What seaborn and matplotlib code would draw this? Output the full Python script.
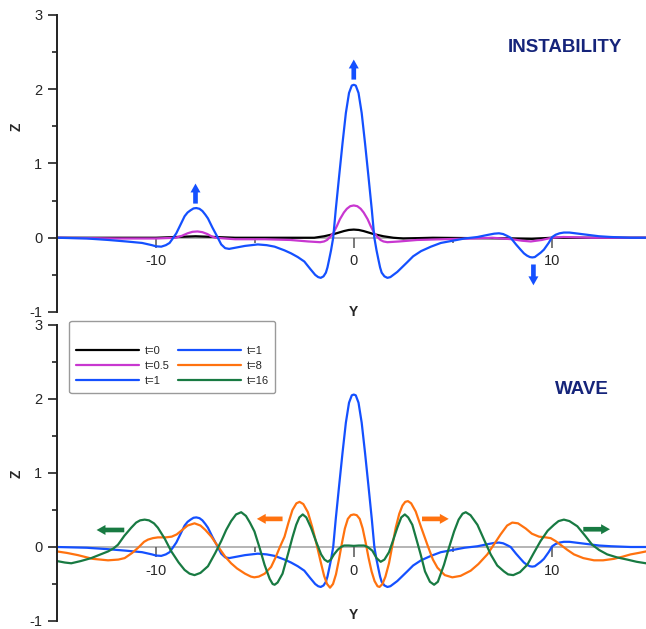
import numpy as np
import pandas as pd
import matplotlib
matplotlib.use("Agg")
import matplotlib.pyplot as plt
import seaborn as sns

# ---------------- data ----------------
# t = 0
y_t0 = [-15, -10, -9, -8, -7, -6, -3, -2, -1.5, -1.25, -1.0, -0.75, -0.5, -0.25, 0, 0.25, 0.5, 0.75, 1.0, 1.25,
        1.5, 2.0, 2.5, 4, 8, 9, 10, 14.8]
z_t0 = [0, 0, 0.01, 0.02, 0.01, 0, 0, 0, 0.02, 0.035, 0.05, 0.07, 0.09, 0.105, 0.11, 0.105, 0.09, 0.07, 0.05, 0.035,
        0.02, 0, -0.01, 0, -0.01, -0.015, 0, 0]

# t = 0.5
y_t05 = [-15, -12, -10, -9, -8.7, -8.4, -8.15, -7.9, -7.65, -7.4, -7.2, -7.0, -6.0, -4.5, -3.2, -2.3, -2.0, -1.7,
         -1.5, -1.35, -1.2, -1.04, -0.85, -0.7, -0.5, -0.35, -0.18, 0, 0.18, 0.35, 0.5, 0.7, 0.85, 1.04, 1.2, 1.35,
         1.5, 1.7, 2.0, 2.3, 3.2, 4.5, 6, 7, 8.0, 8.5, 8.95, 9.5, 10, 10.6, 12, 14.8]
z_t05 = [0, -0.01, -0.01, 0, 0.025, 0.06, 0.08, 0.085, 0.075, 0.05, 0.02, 0, -0.02, -0.02, -0.03, -0.05, -0.055, -0.06,
         -0.05, -0.03, 0.01, 0.06, 0.16, 0.25, 0.34, 0.39, 0.425, 0.435, 0.425, 0.39, 0.34, 0.25, 0.16, 0.06, 0.01, -0.03,
         -0.05, -0.06, -0.055, -0.05, -0.03, -0.02, -0.01, 0, -0.02, -0.04, -0.05, -0.03, 0, 0.01, 0, 0]

# t = 1
y_t1 = [-15, -13.5, -12.4, -11.5, -10.7, -10.2, -10.0, -9.73, -9.5, -9.31, -9.15, -8.97, -8.75, -8.55, -8.4, -8.25,
        -8.1, -7.96, -7.8, -7.65, -7.5, -7.37, -7.15, -6.95, -6.7, -6.5, -6.3, -6.1, -5.9, -5.5, -4.85, -4.4, -4.0,
        -3.5, -3.17, -2.83, -2.5, -2.2, -1.95, -1.8, -1.67, -1.53, -1.41, -1.33, -1.25, -1.15, -1.04, -0.91, -0.74,
        -0.57, -0.40, -0.24, -0.1, 0, 0.1, 0.24, 0.40, 0.57, 0.74, 0.91, 1.04, 1.15, 1.25, 1.33, 1.41, 1.55, 1.70,
        1.85, 1.95, 2.2, 2.7, 3.0, 3.4, 3.9, 4.4, 5.0, 5.6, 6.25, 6.8, 7.1, 7.34, 7.55, 7.75, 7.93, 8.2, 8.43, 8.6,
        8.75, 8.9, 9.02, 9.15, 9.3, 9.45, 9.61, 9.85, 10.03, 10.2, 10.4, 10.62, 10.9, 11.2, 11.8, 12.4, 13.0, 14.0,
        14.8]
z_t1 = [0, -0.01, -0.03, -0.05, -0.07, -0.10, -0.115, -0.12, -0.10, -0.07, -0.01, 0.06, 0.18, 0.29, 0.34, 0.37,
        0.395, 0.40, 0.39, 0.36, 0.31, 0.26, 0.14, 0.04, -0.09, -0.14, -0.15, -0.14, -0.13, -0.11, -0.09, -0.10, -0.12,
        -0.17, -0.21, -0.26, -0.32, -0.42, -0.50, -0.53, -0.54, -0.52, -0.47, -0.40, -0.30, -0.17, 0.0, 0.38, 0.83,
        1.27, 1.68, 1.95, 2.05, 2.06, 2.05, 1.95, 1.68, 1.27, 0.83, 0.38, 0.0, -0.17, -0.30, -0.40, -0.47, -0.52, -0.54,
        -0.53, -0.51, -0.46, -0.33, -0.25, -0.18, -0.12, -0.07, -0.04, -0.01, 0.01, 0.04, 0.055, 0.06, 0.05, 0.025,
        0.0, -0.09, -0.16, -0.21, -0.24, -0.26, -0.265, -0.26, -0.23, -0.20, -0.16, -0.07, 0.01, 0.04, 0.06, 0.07,
        0.07, 0.06, 0.04, 0.02, 0.01, 0, 0]

# t = 8
y_t8 = [-15, -14.5, -13.94, -13.2, -12.42, -11.9, -11.58, -11.2, -10.9, -10.6, -10.4, -10.15, -9.9, -9.5, -9.2,
        -8.95, -8.72, -8.4, -8.05, -7.75, -7.5, -7.2, -6.87, -6.5, -6.2, -5.9, -5.5, -5.2, -5.03, -4.8, -4.5, -4.18,
        -3.95, -3.75, -3.5, -3.3, -3.1, -2.9, -2.74, -2.55, -2.32, -2.1, -1.9, -1.7, -1.5, -1.35, -1.2, -1.05, -0.9,
        -0.75, -0.6, -0.45, -0.3, -0.15, 0, 0.15, 0.3, 0.45, 0.6, 0.75, 0.9, 1.05, 1.2, 1.3, 1.45, 1.6, 1.78, 1.95,
        2.12, 2.3, 2.46, 2.6, 2.74, 2.9, 3.13, 3.4, 3.72, 4.0, 4.23, 4.6, 4.98, 5.4, 5.91, 6.3, 6.75, 7.1, 7.42, 7.75,
        8.01, 8.3, 8.69, 9.0, 9.36, 9.7, 9.95, 10.2, 10.45, 10.8, 11.13, 11.6, 12.14, 12.6, 13.15, 13.6, 13.99, 14.4,
        14.77]
z_t8 = [-0.06, -0.08, -0.11, -0.16, -0.18, -0.17, -0.15, -0.08, -0.01, 0.07, 0.10, 0.12, 0.13, 0.13, 0.14,
        0.17, 0.22, 0.29, 0.32, 0.29, 0.23, 0.14, 0.01, -0.13, -0.22, -0.29, -0.36, -0.40, -0.41, -0.40, -0.36, -0.27,
        -0.14, -0.01, 0.14, 0.33, 0.50, 0.59, 0.61, 0.58, 0.47, 0.27, 0.06, -0.17, -0.39, -0.50, -0.55, -0.50, -0.37,
        -0.17, 0.05, 0.25, 0.38, 0.43, 0.44, 0.43, 0.38, 0.25, 0.06, -0.15, -0.33, -0.46, -0.53, -0.54, -0.50, -0.40,
        -0.22, 0.02, 0.26, 0.45, 0.56, 0.61, 0.62, 0.59, 0.48, 0.27, 0.03, -0.17, -0.28, -0.38, -0.41, -0.39, -0.32,
        -0.23, -0.10, 0.04, 0.17, 0.29, 0.33, 0.32, 0.25, 0.18, 0.14, 0.13, 0.12, 0.08, 0.03, -0.04, -0.10, -0.15,
        -0.18, -0.18, -0.16, -0.13, -0.10, -0.08, -0.06]

# t = 16
y_t16 = [-15, -14.6, -14.28, -13.8, -13.27, -12.8, -12.42, -12.15, -11.92, -11.6, -11.25, -11.0, -10.8, -10.57,
         -10.35, -10.1, -9.9, -9.55, -9.22, -8.85, -8.55, -8.3, -8.05, -7.75, -7.37, -7.0, -6.70, -6.45, -6.20, -5.95,
         -5.69, -5.45, -5.25, -5.02, -4.75, -4.51, -4.25, -4.1, -4.0, -3.85, -3.6, -3.33, -3.1, -2.91, -2.75, -2.58,
         -2.4, -2.16, -1.9, -1.65, -1.48, -1.31, -1.16, -1.0, -0.82, -0.65, -0.49, -0.25, 0, 0.25, 0.52, 0.7, 0.94,
         1.15, 1.36, 1.55, 1.78, 2.0, 2.2, 2.4, 2.58, 2.75, 2.96, 3.15, 3.38, 3.6, 3.85, 4.06, 4.25, 4.56, 4.8, 5.07,
         5.3, 5.5, 5.66, 5.9, 6.25, 6.6, 6.92, 7.25, 7.59, 7.8, 8.06, 8.4, 8.77, 9.1, 9.44, 9.8, 10.12, 10.35, 10.62,
         10.9, 11.3, 11.7, 12.05, 12.4, 12.81, 13.3, 13.82, 14.3, 14.77]
z_t16 = [-0.19, -0.21, -0.22, -0.19, -0.15, -0.10, -0.06, -0.02, 0.03, 0.15, 0.26, 0.33, 0.36, 0.37,
         0.36, 0.32, 0.26, 0.11, -0.06, -0.21, -0.31, -0.36, -0.38, -0.35, -0.26, -0.08, 0.08, 0.23, 0.35, 0.44,
         0.47, 0.42, 0.33, 0.21, -0.02, -0.24, -0.43, -0.50, -0.51, -0.48, -0.36, -0.10, 0.13, 0.30, 0.40, 0.44,
         0.40, 0.26, 0.07, -0.10, -0.17, -0.20, -0.17, -0.10, -0.04, 0.0, 0.02, 0.02, 0.015, 0.02, 0.02, 0.0, -0.05,
         -0.15, -0.20, -0.17, -0.07, 0.10, 0.26, 0.40, 0.44, 0.40, 0.30, 0.12, -0.10, -0.33, -0.47, -0.51, -0.47,
         -0.24, -0.02, 0.21, 0.37, 0.45, 0.47, 0.43, 0.30, 0.09, -0.10, -0.25, -0.33, -0.37, -0.38, -0.34, -0.24,
         -0.08, 0.08, 0.22, 0.30, 0.35, 0.37, 0.35, 0.28, 0.15, 0.03, -0.04, -0.10, -0.14, -0.17, -0.20, -0.22]

legend_labels = ["t=0", "t=0.5", "t=1", "t=1", "t=8", "t=16"]
x_ticks_major = [-10, 0, 10]
x_ticks_minor = [-5, 5]
y_ticks_major = [-1, 0, 1, 2, 3]
y_ticks_minor = [-0.5, 0.5, 1.5, 2.5]

C_BLACK = "#000000"
C_MAG = "#c837d0"
C_BLUE = "#1450ff"
C_ORANGE = "#ff720f"
C_GREEN = "#187a42"
C_TITLE = "#15247a"

# ---------------- style ----------------
sns.set_style("white")
plt.rcParams["font.family"] = ["Liberation Sans", "DejaVu Sans"]
plt.rcParams["axes.unicode_minus"] = False

fig = plt.figure(figsize=(6.46, 6.29), dpi=100)
ax_top = fig.add_axes([57 / 646, 1 - 312 / 629, 589 / 646, 297 / 629])
ax_bot = fig.add_axes([57 / 646, 1 - 621 / 629, 589 / 646, 296 / 629])

LW = 1.6


def draw(ax, xs, zs, color, label):
    df = pd.DataFrame({"Y": xs, "Z": zs})
    sns.lineplot(data=df, x="Y", y="Z", ax=ax, color=color, lw=LW, sort=False,
                 estimator=None, label=label, legend=False)


draw(ax_top, y_t0, z_t0, C_BLACK, "t=0")
draw(ax_top, y_t05, z_t05, C_MAG, "t=0.5")
draw(ax_top, y_t1, z_t1, C_BLUE, "t=1")

draw(ax_bot, y_t1, z_t1, C_BLUE, "t=1")
draw(ax_bot, y_t8, z_t8, C_ORANGE, "t=8")
draw(ax_bot, y_t16, z_t16, C_GREEN, "t=16")

for ax in (ax_top, ax_bot):
    ax.set_xlim(-15, 14.77)
    ax.set_ylim(-1, 3)
    ax.set_facecolor("none")
    for s in ("top", "right"):
        ax.spines[s].set_visible(False)
    ax.spines["left"].set_color("#222222")
    ax.spines["left"].set_linewidth(1.4)
    ax.spines["bottom"].set_position(("data", 0))
    ax.spines["bottom"].set_color("#a8a8a8")
    ax.spines["bottom"].set_linewidth(1.2)
    ax.spines["bottom"].set_zorder(0.5)
    ax.set_xticks(x_ticks_major)
    ax.set_xticks(x_ticks_minor, minor=True)
    ax.set_xticklabels([str(v) for v in x_ticks_major])
    ax.set_yticks(y_ticks_major)
    ax.set_yticks(y_ticks_minor, minor=True)
    ax.set_yticklabels([str(v) for v in y_ticks_major])
    ax.tick_params(axis="y", which="major", direction="out", length=6.5, width=1.2,
                   color="#222222", labelsize=10.5, pad=4, left=True)
    ax.tick_params(axis="y", which="minor", direction="out", length=3.5, width=1.2,
                   color="#222222", left=True)
    ax.tick_params(axis="x", which="major", direction="out", length=7, width=1.1,
                   color="#555555", labelsize=10.5, pad=5, bottom=True)
    ax.tick_params(axis="x", which="minor", direction="out", length=3.5, width=1.1,
                   color="#555555", bottom=True)
    ax.set_xlabel("Y", fontsize=10, fontweight="bold")
    ax.set_ylabel("Z", fontsize=10, fontweight="bold")
    ax.grid(False)

ax_top.xaxis.set_label_coords(0.5025, 0.0)
ax_bot.xaxis.set_label_coords(0.5025, 0.02)
ax_top.xaxis.label.set_va("center")
ax_bot.xaxis.label.set_va("center")
ax_top.yaxis.set_label_coords(-0.068, 0.623)
ax_bot.yaxis.set_label_coords(-0.068, 0.498)
ax_top.yaxis.label.set_va("center")
ax_bot.yaxis.label.set_va("center")


# arrows
def arrow(ax, tail, head, color):
    ax.annotate("", xy=head, xytext=tail,
                arrowprops=dict(arrowstyle="simple,head_length=0.8,head_width=0.9,tail_width=0.42",
                                color=color, mutation_scale=8, shrinkA=0, shrinkB=0, lw=0))


arrow(ax_top, (-8.0, 0.46), (-8.0, 0.73), C_BLUE)
arrow(ax_top, (0.0, 2.13), (0.0, 2.40), C_BLUE)
arrow(ax_top, (9.08, -0.36), (9.08, -0.64), C_BLUE)
arrow(ax_bot, (-11.6, 0.23), (-13.0, 0.23), C_GREEN)
arrow(ax_bot, (-3.6, 0.38), (-4.9, 0.38), C_ORANGE)
arrow(ax_bot, (3.45, 0.38), (4.8, 0.38), C_ORANGE)
arrow(ax_bot, (11.6, 0.24), (12.95, 0.24), C_GREEN)

# panel titles
fig.text(565 / 646, 1 - 47 / 629, "INSTABILITY", color=C_TITLE, fontsize=13.5,
         fontweight="bold", ha="center", va="center")
fig.text(582 / 646, 1 - 390 / 629, "WAVE", color=C_TITLE, fontsize=13.5,
         fontweight="bold", ha="center", va="center")

# legend
handles = ax_top.get_lines()[:3] + ax_bot.get_lines()[:3]
leg = fig.legend(handles, legend_labels, ncol=2, loc="upper left",
                 bbox_to_anchor=(69.3 / 646, 1 - 320.7 / 629), bbox_transform=fig.transFigure,
                 fontsize=8, frameon=True, fancybox=True, title=" ", title_fontsize=10,
                 handlelength=5.7, handletextpad=0.5, columnspacing=0.7, labelspacing=0.45,
                 borderpad=0.6, borderaxespad=0)
leg.get_frame().set_edgecolor("#9a9a9a")
leg.get_frame().set_linewidth(1.0)
leg.get_frame().set_facecolor("white")
leg.get_frame().set_alpha(1)

fig.savefig("out.png", dpi=100)
